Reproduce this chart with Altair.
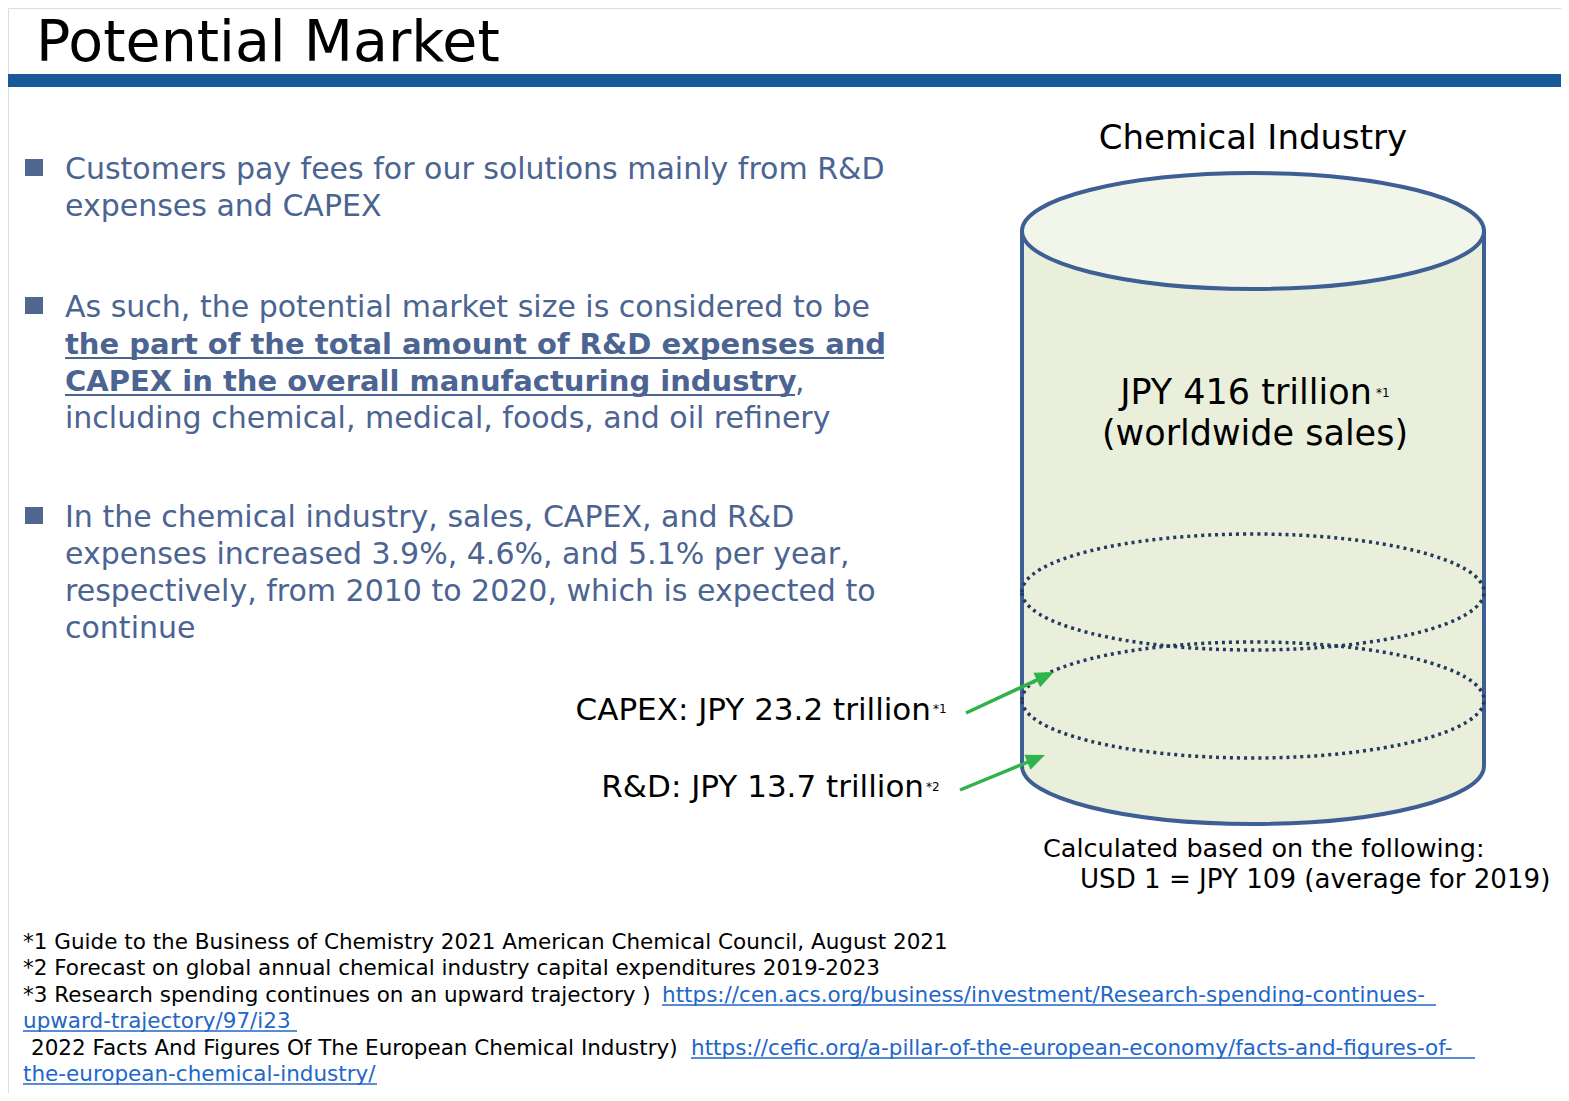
import math
import altair as alt
import pandas as pd

# ---------------- content ----------------
title_text = "Potential Market"

bullet1_lines = ["Customers pay fees for our solutions mainly from R&D",
                 "expenses and CAPEX"]
bullet2_plain_first = "As such, the potential market size is considered to be"
bullet2_bold_lines = ["the part of the total amount of R&D expenses and",
                      "CAPEX in the overall manufacturing industry"]
bullet2_comma = ","
bullet2_last = "including chemical, medical, foods, and oil refinery"
bullet3_lines = ["In the chemical industry, sales, CAPEX, and R&D",
                 "expenses increased 3.9%, 4.6%, and 5.1% per year,",
                 "respectively, from 2010 to 2020, which is expected to",
                 "continue"]

panel_title = "Chemical Industry"
sales_value = 416      # JPY trillion
capex_value = 23.2     # JPY trillion
rnd_value = 13.7       # JPY trillion
sales_lines = [f"JPY {sales_value} trillion", "(worldwide sales)"]
capex_label = f"CAPEX: JPY {capex_value} trillion"
rnd_label = f"R&D: JPY {rnd_value} trillion"
note_labels = ["*1", "*1", "*2"]
fx_lines = ["Calculated based on the following:",
            "USD 1 = JPY 109 (average for 2019)"]

foot_plain = ["*1 Guide to the Business of Chemistry 2021 American Chemical Council, August 2021",
              "*2 Forecast on global annual chemical industry capital expenditures 2019-2023",
              "*3 Research spending continues on an upward trajectory )",
              "2022 Facts And Figures Of The European Chemical Industry)"]
foot_links = ["https://cen.acs.org/business/investment/Research-spending-continues-",
              "upward-trajectory/97/i23",
              "https://cefic.org/a-pillar-of-the-european-economy/facts-and-figures-of-",
              "the-european-chemical-industry/"]

# ---------------- styles ----------------
FONT = "DejaVu Sans"
TXT_BLUE = "#4b6491"
BULLET = "#50688f"
HEADER = "#175a97"
LINK = "#2266c8"
CYL_STROKE = "#3d5f93"
CYL_BODY = "#eaefdc"
CYL_TOP = "#f2f6ea"
DOT = "#243a5e"
GREEN = "#2fb34a"

# ---------------- canvas ----------------
M = 8
W, H = 1553, 1085
xs = alt.Scale(domain=[M, M + W], nice=False, zero=False)
ys = alt.Scale(domain=[M, M + H], nice=False, zero=False, reverse=True)


def X(f):
    return alt.X(f"{f}:Q", scale=xs, axis=None)


def Y(f):
    return alt.Y(f"{f}:Q", scale=ys, axis=None)


def texts(rows, size, color, weight="normal", align="left", font=FONT):
    df = pd.DataFrame(rows, columns=["text", "x", "y"])
    return alt.Chart(df).mark_text(
        align=align, baseline="alphabetic", font=font, fontSize=size,
        fontWeight=weight, color=color
    ).encode(x=X("x"), y=Y("y"), text="text:N")


def rules(rows, color, width):
    df = pd.DataFrame(rows, columns=["x", "x2", "y", "y2"])
    return alt.Chart(df).mark_rule(color=color, strokeWidth=width, strokeCap="butt").encode(
        x=X("x"), x2="x2:Q", y=Y("y"), y2="y2:Q")


layers = []

# header
layers.append(alt.Chart(pd.DataFrame({"x": [0], "x2": [1569], "y": [74], "y2": [87]}))
              .mark_rect(color=HEADER).encode(x=X("x"), x2="x2:Q", y=Y("y"), y2="y2:Q"))
layers.append(texts([(title_text, 36, 61)], 57, "#000000"))

# bullets
LH = 37
b_base = [179, 317, 527]
sq = pd.DataFrame({"x": [25] * 3, "x2": [43] * 3,
                   "y": [b - 20 for b in b_base], "y2": [b - 3 for b in b_base]})
layers.append(alt.Chart(sq).mark_rect(color=BULLET).encode(x=X("x"), x2="x2:Q", y=Y("y"), y2="y2:Q"))

plain_rows = []
for i, t in enumerate(bullet1_lines):
    plain_rows.append((t, 65, b_base[0] + i * LH))
plain_rows.append((bullet2_plain_first, 65, b_base[1]))
plain_rows.append((bullet2_last, 65, b_base[1] + 3 * LH))
plain_rows.append((bullet2_comma, 795, b_base[1] + 2 * LH))
for i, t in enumerate(bullet3_lines):
    plain_rows.append((t, 65, b_base[2] + i * LH))
layers.append(texts(plain_rows, 30, TXT_BLUE))
bold_rows = [(t, 65, b_base[1] + (i + 1) * LH) for i, t in enumerate(bullet2_bold_lines)]
layers.append(texts(bold_rows, 29, TXT_BLUE, weight="bold"))
layers.append(rules([(65, 884, 358, 358), (65, 795, 395, 395)], TXT_BLUE, 2))

# cylinder (unit = radius in px)
CX, CY, R = 1253, 231, 231
k = 0.5523
ry = 58 / R
kr = ry * k
h = (766 - CY) / R
size = (2 * R) ** 2


def f(v):
    return f"{v:.4f}"


ellipse_path = (f"M -1 0 C -1 {f(-kr)} {f(-k)} {f(-ry)} 0 {f(-ry)} "
                f"C {f(k)} {f(-ry)} 1 {f(-kr)} 1 0 "
                f"C 1 {f(kr)} {f(k)} {f(ry)} 0 {f(ry)} "
                f"C {f(-k)} {f(ry)} -1 {f(kr)} -1 0 Z")
body_open = (f"M -1 0 L -1 {f(h)} C -1 {f(h + kr)} {f(-k)} {f(h + ry)} 0 {f(h + ry)} "
             f"C {f(k)} {f(h + ry)} 1 {f(h + kr)} 1 {f(h)} L 1 0")
body_closed = body_open + " Z"

pt = pd.DataFrame({"x": [CX], "y": [CY]})
layers.append(alt.Chart(pt).mark_point(shape=body_closed, size=size, filled=True,
                                       fill=CYL_BODY, strokeWidth=0, opacity=1)
              .encode(x=X("x"), y=Y("y")))
layers.append(alt.Chart(pt).mark_point(shape=body_open, size=size, filled=False,
                                       color=CYL_STROKE, strokeWidth=4, opacity=1)
              .encode(x=X("x"), y=Y("y")))
dots = pd.DataFrame({"x": [CX, CX], "y": [592, 700]})
layers.append(alt.Chart(dots).mark_point(shape=ellipse_path, size=size, filled=False,
                                         color=DOT, strokeWidth=3.5, strokeDash=[3, 4], opacity=1)
              .encode(x=X("x"), y=Y("y")))
layers.append(alt.Chart(pt).mark_point(shape=ellipse_path, size=size, filled=True,
                                       fill=CYL_TOP, stroke=CYL_STROKE, strokeWidth=4, opacity=1)
              .encode(x=X("x"), y=Y("y")))

# arrows
arrow_tail = [(966, 713), (960, 790)]
arrow_tip = [(1054, 672), (1045, 755)]
seg, heads = [], []
for (x0, y0), (x1, y1) in zip(arrow_tail, arrow_tip):
    dx, dy = x1 - x0, y1 - y0
    L = math.hypot(dx, dy)
    ux, uy = dx / L, dy / L
    seg.append((x0, x1 - 12 * ux, y0, y1 - 12 * uy))
    ang = math.degrees(math.atan2(dx, -dy)) % 360
    heads.append({"x": x1, "y": y1, "ang": ang})
layers.append(rules(seg, GREEN, 3.5))
layers.append(alt.Chart(pd.DataFrame(heads)).mark_point(
    shape="M 0 0 L 0.8 1.9 L -0.8 1.9 Z", size=400, filled=True, color=GREEN, opacity=1)
    .encode(x=X("x"), y=Y("y"), angle=alt.Angle("ang:Q", scale=None)))

# right-side texts
layers.append(texts([(panel_title, 1253, 149)], 34, "#000000", align="center"))
layers.append(texts([(sales_lines[0], 1246, 404), (sales_lines[1], 1255, 445)], 35, "#000000", align="center"))
layers.append(texts([(capex_label, 931, 720), (rnd_label, 924, 797)], 31, "#000000", align="right"))
layers.append(texts([(note_labels[0], 1376, 397), (note_labels[1], 933, 713), (note_labels[2], 926, 791)],
                    12, "#000000"))
layers.append(texts([(fx_lines[0], 1043, 857)], 25.5, "#000000"))
layers.append(texts([(fx_lines[1], 1080, 888)], 26.1, "#000000"))

# footnotes
FB = [949, 975, 1002, 1028, 1055, 1081]
FS = 21.5
layers.append(texts([(foot_plain[0], 23, FB[0]), (foot_plain[1], 23, FB[1]),
                     (foot_plain[2], 23, FB[2]), (foot_plain[3], 31, FB[4])], FS, "#000000"))
layers.append(texts([(foot_links[0], 662, FB[2]), (foot_links[1], 23, FB[3]),
                     (foot_links[2], 691, FB[4]), (foot_links[3], 23, FB[5])], FS, LINK))
layers.append(rules([(662, 1436, FB[2] + 3, FB[2] + 3), (23, 297, FB[3] + 3, FB[3] + 3),
                     (691, 1475, FB[4] + 3, FB[4] + 3), (23, 377, FB[5] + 3, FB[5] + 3)], LINK, 1.5))

chart = alt.layer(*layers).properties(
    width=W, height=H, padding=0, autosize=alt.AutoSizeParams(type="none")
).configure_view(strokeWidth=0, strokeOpacity=0).configure(background="white")

chart.save("out.html", embed_options={"renderer": "svg", "actions": False})
